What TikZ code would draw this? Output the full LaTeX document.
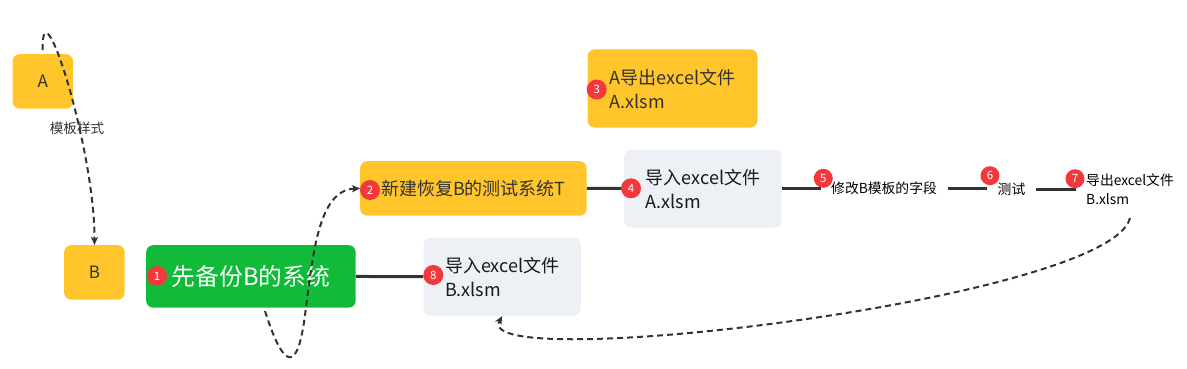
\documentclass[tikz,border=0pt]{standalone}
\usepackage{fontspec}
\setmainfont{Noto Sans CJK SC}
\usetikzlibrary{arrows.meta}
\definecolor{ylw}{HTML}{FFC52B}
\definecolor{grn}{HTML}{12BA3A}
\definecolor{lgr}{HTML}{EDF0F4}
\definecolor{bred}{HTML}{F2383D}
\definecolor{dk}{HTML}{333333}
\begin{document}
\begin{tikzpicture}[x=1pt,y=-1pt,
  box/.style={rounded corners=7pt, inner sep=0pt, anchor=north west, align=left},
  ybox/.style={box, fill=ylw, text=dk},
  gbox/.style={box, fill=lgr, text=black!90},
  bigtxt/.style={font=\fontsize{18}{24}\selectfont},
  smalltxt/.style={font=\fontsize{13.8}{18}\selectfont, inner xsep=10.5pt, inner ysep=0pt, anchor=west, align=left, text=black},
  badge/.style={circle, fill=bred, text=white, inner sep=0pt, minimum size=20pt, font=\fontsize{11.5}{12}\selectfont},
  sbadge/.style={badge, minimum size=19pt},
  link/.style={draw=dk, line width=3pt},
  dashlink/.style={draw=dk, line width=2pt, dash pattern=on 6pt off 4pt, -{Stealth[length=8pt,width=7pt,inset=2pt]}}
]
\useasboundingbox (0,0) rectangle (1187,369);

% boxes
\node[ybox, minimum width=60.5, minimum height=54.5, font=\fontsize{17}{20}\selectfont] (A) at (12.3,54) {A};
\node[ybox, minimum width=60.5, minimum height=54.5, font=\fontsize{17}{20}\selectfont] (B) at (64,245) {B};
\node[box, fill=grn, text=white, minimum width=209.5, minimum height=62.5, font=\fontsize{23.8}{28}\selectfont] (g1) at (146,245) {先备份B的系统};
\node[ybox, bigtxt, minimum width=226.5, minimum height=54.5] (b2) at (360,161) {新建恢复B的测试系统T};
\node[ybox, bigtxt, minimum width=170, minimum height=78] (b3) at (587.3,49.3) {A导出excel文件\\A.xlsm};
\node[gbox, bigtxt, minimum width=157.5, minimum height=78] (b4) at (624,149.3) {导入excel文件\\A.xlsm};
\node[gbox, bigtxt, minimum width=157.3, minimum height=78.4] (b8) at (423.3,237.3) {导入excel文件\\B.xlsm};

% small text nodes
\node[smalltxt] (t5) at (820.5,188.5) {修改B模板的字段};
\node[smalltxt] (t6) at (987,189) {测试};
\node[smalltxt, font=\fontsize{13.8}{18.5}\selectfont] (t7) at (1075.5,189) {导出excel文件\\B.xlsm};

% solid links
\draw[link] (g1.east) -- (b8.west);
\draw[link] (b2.east) -- (b4.west);
\draw[link] (b4.east) -- (b4.east -| t5.west);
\draw[link] (t5.east) -- (t5.east -| t6.west);
\draw[link] (t6.east) -- (t6.east -| t7.west);

% dashed links
\coordinate (cAs) at (42.7,50);
\draw[dashlink] (cAs) .. controls (41,-22) and (95,150) .. (B.north);
\node[font=\fontsize{13.6}{15}\selectfont, text=dk, inner sep=0pt] (lab) at (77,128.5) {模板样式};

\coordinate (c1s) at (265,311);
\draw[dashlink] (c1s) .. controls (285,374) and (298,370) .. (305,315)
  .. controls (313,255) and (318,190) .. (b2.west);

\coordinate (c7s) at (1130,218);
\draw[dashlink] (c7s) .. controls (1110,300) and (470,375) .. (b8.south);

% badges
\node[badge] (n1) at (157,276) {1};
\node[badge] (n2) at (370,190) {2};
\node[badge] (n3) at (596.7,89.5) {3};
\node[badge] (n4) at (631,188.3) {4};
\node[badge] (n8) at (433.3,275) {8};
\node[sbadge] (n5) at (823.3,178.3) {5};
\node[sbadge] (n6) at (990,175.7) {6};
\node[sbadge] (n7) at (1075,178.7) {7};
\end{tikzpicture}
\end{document}
